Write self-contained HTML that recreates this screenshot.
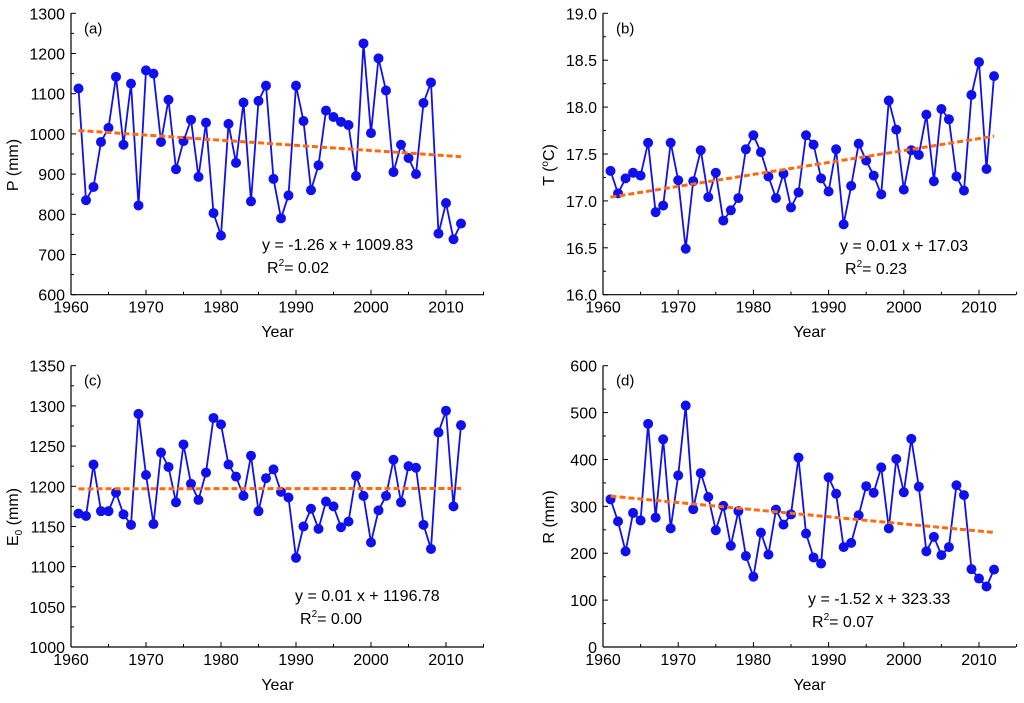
<!DOCTYPE html>
<html><head><meta charset="utf-8"><style>
body{margin:0;background:#fff;}
svg{display:block;font-family:"Liberation Sans",Arial,sans-serif;}
</style></head><body>
<svg id="chart" width="1024" height="703" viewBox="0 0 1024 703" xmlns="http://www.w3.org/2000/svg"></svg>
<script>
const years = Array.from({length:52},(_,i)=>1961+i);
const seriesP = [1113,835,868,980,1015,1142,973,1125,822,1158,1150,980,1085,912,982,1035,893,1028,803,747,1025,928,1078,832,1082,1120,888,790,847,1120,1032,860,922,1058,1042,1030,1022,895,1225,1002,1188,1108,905,973,940,900,1077,1128,752,828,738,777];
const seriesT = [17.32,17.08,17.24,17.30,17.27,17.62,16.88,16.95,17.62,17.22,16.49,17.21,17.54,17.04,17.30,16.79,16.90,17.03,17.55,17.70,17.52,17.26,17.03,17.29,16.93,17.09,17.70,17.60,17.24,17.10,17.55,16.75,17.16,17.61,17.43,17.27,17.07,18.07,17.76,17.12,17.54,17.49,17.92,17.21,17.98,17.87,17.26,17.11,18.13,18.48,17.34,18.33];
const seriesE = [1166,1163,1227,1169,1169,1192,1165,1152,1290,1214,1153,1242,1224,1180,1252,1203,1183,1217,1285,1277,1227,1212,1188,1238,1169,1210,1221,1193,1186,1111,1150,1172,1147,1181,1175,1149,1156,1213,1188,1130,1170,1188,1233,1180,1225,1223,1152,1122,1267,1294,1175,1276];
const seriesR = [315,268,204,286,270,476,276,443,253,366,515,294,371,320,249,301,216,290,194,150,244,197,293,261,283,404,242,191,178,362,327,213,222,281,343,329,383,253,401,330,444,342,204,235,196,213,345,324,166,146,129,165];
const trendStart = [1008.6, 17.04, 1196.8, 321.8];
const trendEnd = [943.3, 17.69, 1197.3, 244.3];
const xTicks = [1960,1970,1980,1990,2000,2010];
const yTicksP = [600,700,800,900,1000,1100,1200,1300];
const yTicksT = [16.0,16.5,17.0,17.5,18.0,18.5,19.0];
const yTicksE = [1000,1050,1100,1150,1200,1250,1300,1350];
const yTicksR = [0,100,200,300,400,500,600];

const NS="http://www.w3.org/2000/svg";
const svg=document.getElementById('chart');
function mk(tag,attrs,parent){const e=document.createElementNS(NS,tag);for(const k in attrs)e.setAttribute(k,attrs[k]);(parent||svg).appendChild(e);return e;}

const panels=[
 {id:'a',data:seriesP,ticks:yTicksP,dec:0,x0:71,xr:484,yTop:13.3,yBot:294.7,label:'(a)',ylab:'P (mm)',ylx:12,yly:165,yearY:337,eq:'y = -1.26 x + 1009.83',r2:'0.02',ex:262,ey:250,rx:267,ry:273},
 {id:'b',data:seriesT,ticks:yTicksT,dec:1,x0:603,xr:1016,yTop:13.3,yBot:294.7,label:'(b)',ylab:'T (°C)',ylx:548,yly:165,yearY:337,eq:'y = 0.01 x + 17.03',r2:'0.23',ex:840,ey:251,rx:845,ry:274},
 {id:'c',data:seriesE,ticks:yTicksE,dec:0,x0:71,xr:484,yTop:365.7,yBot:647,label:'(c)',ylab:'E0 (mm)',ylx:12,yly:517,yearY:690,eq:'y = 0.01 x + 1196.78',r2:'0.00',ex:295,ey:601,rx:300,ry:624},
 {id:'d',data:seriesR,ticks:yTicksR,dec:0,x0:603,xr:1016,yTop:365.7,yBot:647,label:'(d)',ylab:'R (mm)',ylx:548,yly:517,yearY:690,eq:'y = -1.52 x + 323.33',r2:'0.07',ex:808,ey:604,rx:812,ry:627}
];

panels.forEach((p,pi)=>{
  const g=mk('g',{});
  
  
  const xs=(p.xr===484?446:979);
  const sx=y=>p.x0+(y-1960)*(xs-p.x0)/50;
  const tmin=p.ticks[0],tmax=p.ticks[p.ticks.length-1];
  const sy=v=>p.yBot-(v-tmin)*(p.yBot-p.yTop)/(tmax-tmin);
  // axes
  const ya=mk('line',{x1:p.x0,y1:p.yTop,x2:p.x0,y2:p.yBot,stroke:'#000','stroke-width':1.2},g);
  
  
  const xa=mk('line',{x1:p.x0,y1:p.yBot,x2:p.xr,y2:p.yBot,stroke:'#000','stroke-width':1.2},g);
  
  
  // y ticks
  p.ticks.forEach((t,i)=>{
    const y=sy(t);
    mk('line',{x1:p.x0,y1:y,x2:p.x0+5,y2:y,stroke:'#000','stroke-width':1},g);
    if(i<p.ticks.length-1){const ym=(y+sy(p.ticks[i+1]))/2;mk('line',{x1:p.x0,y1:ym,x2:p.x0+3,y2:ym,stroke:'#000','stroke-width':1},g);}
    const tx=mk('text',{x:p.x0-6,y:y+6,'text-anchor':'end','font-size':16,fill:'#000'},g);
    tx.textContent=t.toFixed(p.dec);
    
    
  });
  // x ticks
  for(let yr=1960;yr<=2015;yr+=5){
    const x=sx(yr);
    mk('line',{x1:x,y1:p.yBot,x2:x,y2:p.yBot-(yr%10===0?5:3),stroke:'#000','stroke-width':1},g);
  }
  xTicks.forEach(t=>{
    const tx=mk('text',{x:sx(t),y:p.yBot+18,'text-anchor':'middle','font-size':16,fill:'#000'},g);
    tx.textContent=t;
    
    
  });
  // labels
  const yt=mk('text',{x:(p.x0+p.xr)/2,y:p.yearY,'text-anchor':'middle','font-size':16,fill:'#000'},g);
  yt.textContent='Year';
  
  
  const yl=mk('text',{x:p.ylx,y:p.yly,'text-anchor':'middle','font-size':16,fill:'#000',transform:`rotate(-90 ${p.ylx} ${p.yly})`,dy:6},g);
  
  
  if(p.id==='b'){yl.innerHTML='T (<tspan font-size="10" dy="-6">o</tspan><tspan dy="6">C)</tspan>';}
  else if(p.id==='c'){yl.innerHTML='E<tspan font-size="10" dy="4">0</tspan><tspan dy="-4"> (mm)</tspan>';}
  else yl.textContent=p.ylab;
  const pl=mk('text',{x:p.x0+13,y:p.yTop+20,'font-size':15,fill:'#000'},g);
  pl.textContent=p.label;
  
  
  // series
  const pts=p.data.map((v,i)=>sx(years[i]).toFixed(1)+','+sy(v).toFixed(1)).join(' ');
  const line=mk('polyline',{points:pts,fill:'none',stroke:'#1010ee','stroke-width':1.8},g);
  
  
  p.data.forEach((v,i)=>{
    const c=mk('circle',{cx:sx(years[i]),cy:sy(v),r:5,fill:'#1010ee'},g);
    
    
  });
  const tr=mk('line',{x1:sx(1961),y1:sy(trendStart[pi]),x2:sx(2012),y2:sy(trendEnd[pi]),stroke:'#ff6a10','stroke-width':3,'stroke-dasharray':'6 3'},g);
  
  
  const eq=mk('text',{x:p.ex,y:p.ey,'font-size':16,fill:'#000'},g);
  eq.textContent=p.eq;
  
  
  const r2=mk('text',{x:p.rx,y:p.ry,'font-size':16,fill:'#000'},g);
  r2.innerHTML='R<tspan font-size="10" dy="-7">2</tspan><tspan dy="7">= '+p.r2+'</tspan>';
  
  
});
</script>
</body></html>
